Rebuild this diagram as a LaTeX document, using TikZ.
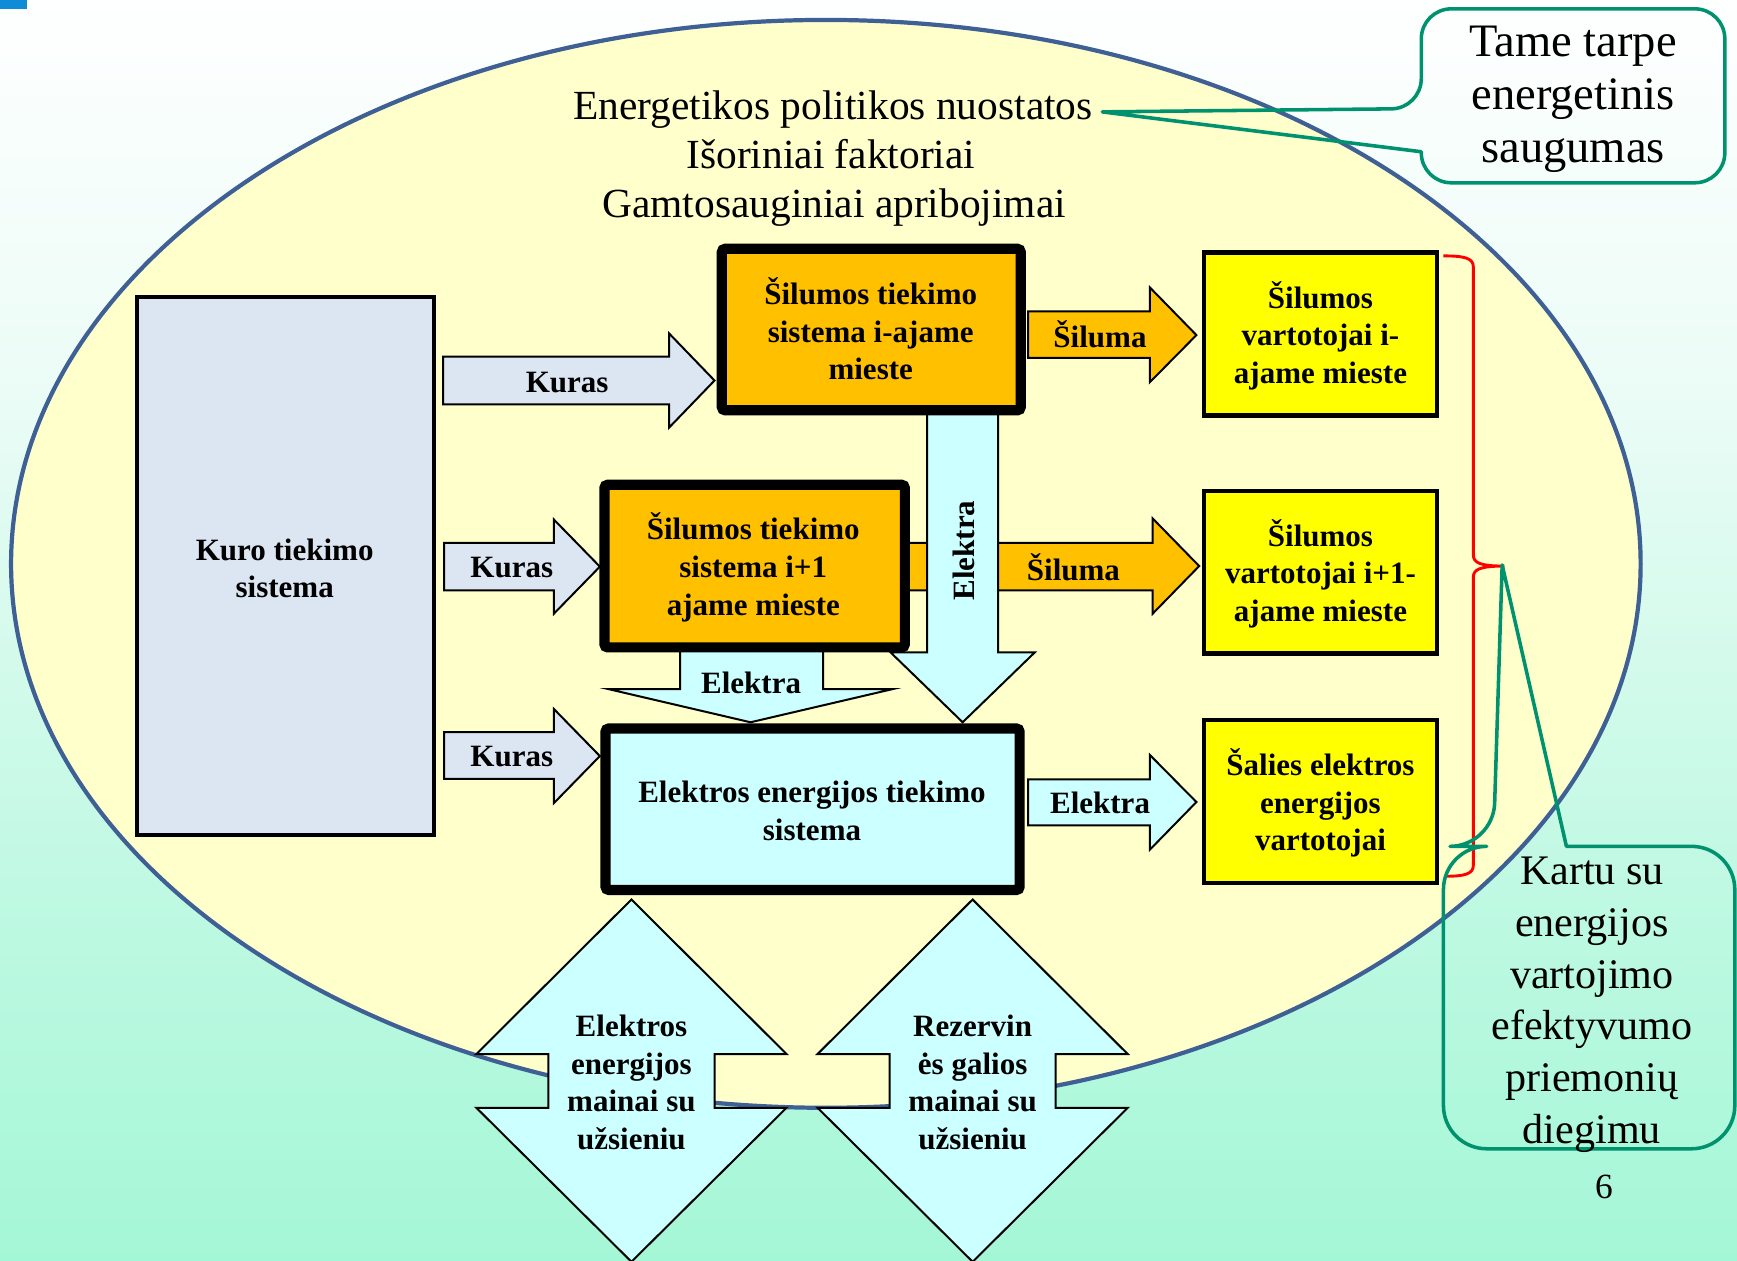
\documentclass[tikz,border=0pt]{standalone}
\usepackage{fontspec}
\setmainfont{Liberation Serif}
\definecolor{ellfill}{RGB}{255,255,204}
\definecolor{ellline}{RGB}{62,96,148}
\definecolor{kurofill}{RGB}{220,230,242}
\definecolor{orangefill}{RGB}{255,192,0}
\definecolor{yellowfill}{RGB}{255,255,0}
\definecolor{cyanfill}{RGB}{204,255,255}
\definecolor{callgreen}{RGB}{0,146,110}
\definecolor{bgtop}{RGB}{254,255,255}
\definecolor{bgup}{RGB}{236,252,247}
\definecolor{bgmid}{RGB}{192,249,227}
\definecolor{bgbot}{RGB}{164,247,214}
\definecolor{cornerblue}{RGB}{16,140,214}
\pgfdeclareverticalshading{bgshade}{100bp}{color(0bp)=(bgbot); color(25bp)=(bgbot); color(40bp)=(bgmid); color(60bp)=(bgup); color(75bp)=(bgtop); color(100bp)=(bgtop)}
\begin{document}
\begin{tikzpicture}[x=0.5pt,y=-0.5pt,
  bold/.style={font=\fontsize{14pt}{17pt}\selectfont\bfseries, align=center, inner sep=0pt},
  thickbox/.style={draw=black, line width=4.6pt, rounded corners=1.5pt, inner sep=0pt},
  thinbox/.style={draw=black, line width=2pt, inner sep=0pt},
  blockarrow/.style={draw=black, line width=0.9pt, line join=miter},
  callout/.style={draw=callgreen, line width=1.6pt, line join=round},
  bigtext/.style={font=\fontsize{18.7pt}{22pt}\selectfont, inner sep=0pt, anchor=base},
  calltexta/.style={font=\fontsize{21pt}{24pt}\selectfont, align=center, inner sep=0pt},
  calltextb/.style={font=\fontsize{19pt}{23.3pt}\selectfont, align=center, inner sep=0pt}
]
\useasboundingbox (0,0) rectangle (1568,1138);
% background
\shade[shading=bgshade] (0,0) rectangle (1568,1138);
\fill[cornerblue] (0,0) rectangle (24,8);
% ellipse
\draw[ellline, fill=ellfill, line width=1.9pt] (745.5,509) ellipse [x radius=735.5, y radius=491];
% top texts
\node[bigtext] (t1) at (752,108) {Energetikos politikos nuostatos};
\node[bigtext] (t2) at (750,152) {Išoriniai faktoriai};
\node[bigtext] (t3) at (753,196) {Gamtosauginiai apribojimai};
% callout 1
\draw[callout] (1283,137) [rounded corners=13.5pt] -- (1283,165) -- (1557,165) -- (1557,8) -- (1283,8) -- (1283,98) [sharp corners] -- (995,101) -- cycle;
\node[calltexta] (c1) at (1420,89.5) {Tame tarpe\\energetinis\\saugumas};
% Kuro box
\node[draw=black, line width=1.8pt, fill=kurofill, inner sep=0pt, minimum width=134.2pt, minimum height=243.2pt] (kuro) at (258,511) {};
\node[bold] (kurot) at (257,513) {Kuro tiekimo\\sistema};
% Kuras arrows
\draw[blockarrow, fill=kurofill] (400,322) -- (604,322) -- (604,301) -- (645,343.5) -- (604,386) -- (604,365) -- (400,365) -- cycle;
\node[bold] (k1) at (512,345) {Kuras};
\draw[blockarrow, fill=kurofill] (401,490) -- (500,490) -- (500,469) -- (541.5,511.5) -- (500,554) -- (500,533) -- (401,533) -- cycle;
\node[bold] (k2) at (462,512) {Kuras};
\draw[blockarrow, fill=kurofill] (401,661) -- (500,661) -- (500,640) -- (541.5,682.5) -- (500,725) -- (500,703) -- (401,703) -- cycle;
\node[bold] (k3) at (462,683) {Kuras};
% Siluma 2 arrow (behind)
\draw[blockarrow, fill=orangefill] (800,490) -- (1040.5,490) -- (1040.5,468) -- (1082.5,511) -- (1040.5,554) -- (1040.5,533) -- (800,533) -- cycle;
\node[bold] (sl2) at (969,512) {Šiluma};
% small Elektra arrow
\draw[blockarrow, fill=cyanfill] (614,580) -- (614,622) -- (549,622) -- (677.5,652) -- (806,622) -- (743,622) -- (743,580) -- cycle;
\node[bold] (el2) at (678,616) {Elektra};
% vertical Elektra arrow
\draw[blockarrow, fill=cyanfill] (837,360) -- (837,589) -- (804,589) -- (869,652) -- (934,589) -- (901,589) -- (901,360) -- cycle;
\node[bold, rotate=90] (el1) at (870,497) {Elektra};
% orange boxes
\node[thickbox, fill=orangefill, minimum width=134.9pt, minimum height=72.9pt] (s1) at (786.5,297.5) {};
\node[bold] (s1t) at (786,297) {Šilumos tiekimo\\sistema i-ajame\\mieste};
\node[thickbox, fill=orangefill, minimum width=135.6pt, minimum height=73.4pt] (s2) at (681.2,511) {};
\node[bold] (s2t) at (680,512) {Šilumos tiekimo\\sistema i+1\\ajame mieste};
% electric box
\node[thickbox, fill=cyanfill, minimum width=186.9pt, minimum height=72.9pt] (eb) at (733.5,730.5) {};
\node[bold] (ebt) at (733,732) {Elektros energijos tiekimo\\sistema};
% right arrows
\draw[blockarrow, fill=orangefill] (928,281) -- (1038,281) -- (1038,259.5) -- (1080,302.5) -- (1038,345) -- (1038,323) -- (928,323) -- cycle;
\node[bold] (sl1) at (993,302) {Šiluma};
\draw[blockarrow, fill=cyanfill] (928,703.5) -- (1038,703.5) -- (1038,681.5) -- (1080,724) -- (1038,767) -- (1038,745) -- (928,745) -- cycle;
\node[bold] (el3) at (993,725) {Elektra};
% yellow boxes
\node[thinbox, fill=yellowfill, minimum width=105pt, minimum height=73.5pt] (y1) at (1192,301.5) {};
\node[bold] (y1t) at (1192,303) {Šilumos\\vartotojai i-\\ajame mieste};
\node[thinbox, fill=yellowfill, minimum width=105pt, minimum height=73.5pt] (y2) at (1192,516.5) {};
\node[bold] (y2t) at (1192,518) {Šilumos\\vartotojai i+1-\\ajame mieste};
\node[thinbox, fill=yellowfill, minimum width=105pt, minimum height=73.5pt] (y3) at (1192,723.5) {};
\node[bold] (y3t) at (1192,725) {Šalies elektros\\energijos\\vartotojai};
% diamonds
\draw[blockarrow, fill=cyanfill] (570,812) -- (710,951.5) -- (645,951.5) -- (645,1000) -- (710,1000) -- (570,1139) -- (430,1000) -- (495,1000) -- (495,951.5) -- (430,951.5) -- cycle;
\node[bold] (d1) at (570,977) {Elektros\\energijos\\mainai su\\užsieniu};
\draw[blockarrow, fill=cyanfill] (878,812) -- (1018,951.5) -- (953,951.5) -- (953,1000) -- (1018,1000) -- (878,1139) -- (738,1000) -- (803,1000) -- (803,951.5) -- (738,951.5) -- cycle;
\node[bold] (d2) at (878,977) {Rezervin\\ės galios\\mainai su\\užsieniu};
% red brace
\draw[red, line width=1.3pt] (1303,231) .. controls (1322,231) and (1330,233) .. (1330,241) -- (1330,501) .. controls (1330,508) and (1336,511) .. (1358,511) .. controls (1336,511) and (1330,514) .. (1330,521) -- (1330,781) .. controls (1330,789) and (1322,791) .. (1305,791);
% callout 2
\draw[callout] (1414,764) [rounded corners=19.5pt] -- (1566,764) -- (1566,1037) -- (1303,1037) -- (1303,764) -- (1348,764) [sharp corners] -- (1356,510) -- cycle;
\node[calltextb] (c2) at (1437,907) {Kartu su\\energijos\\vartojimo\\efektyvumo\\priemonių\\diegimu};
% page number
\node[font=\fontsize{16pt}{19pt}\selectfont, inner sep=0pt] (pg) at (1448,1071) {6};
\end{tikzpicture}
\end{document}
